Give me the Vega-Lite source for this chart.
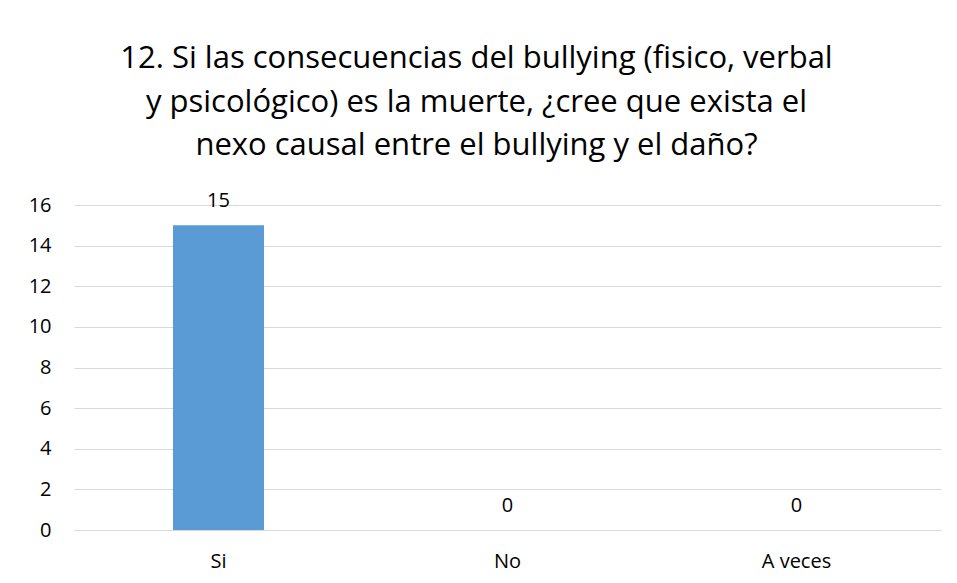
{
  "$schema": "https://vega.github.io/schema/vega-lite/v6.json",
  "width": 867,
  "height": 325,
  "autosize": {"type": "none"},
  "padding": {"left": 74, "top": 205, "right": 16, "bottom": 53},
  "background": "white",
  "config": {"view": {"stroke": null}, "font": "Open Sans"},
  "title": {
    "text": ["12. Si las consecuencias del bullying (fisico, verbal", "y psicológico) es la muerte, ¿cree que exista el", "nexo causal entre el bullying y el daño?"],
    "font": "Open Sans",
    "fontSize": 31,
    "fontWeight": "normal",
    "color": "#000000",
    "anchor": "middle",
    "baseline": "alphabetic",
    "lineHeight": 43.5,
    "offset": 5,
    "dx": -31
  },
  "data": {"values": [
    {"respuesta": "Si", "cantidad": 15},
    {"respuesta": "No", "cantidad": 0},
    {"respuesta": "A veces", "cantidad": 0}
  ]},
  "encoding": {
    "x": {"field": "respuesta", "type": "nominal", "sort": null,
      "scale": {"paddingInner": 0.685, "paddingOuter": 0.3425},
      "axis": {"title": null, "labelAngle": 0, "ticks": false, "domainColor": "#d9d9d9", "domainWidth": 1,
        "labelFont": "Open Sans", "labelFontSize": 20, "labelColor": "#000000", "labelPadding": 21, "labelBaseline": "top"}},
    "y": {"field": "cantidad", "type": "quantitative",
      "scale": {"domain": [0, 16]},
      "axis": {"title": null, "values": [0, 2, 4, 6, 8, 10, 12, 14, 16], "ticks": false, "domain": false,
        "gridColor": "#d9d9d9", "gridWidth": 1, "labelFont": "Open Sans", "labelFontSize": 20, "labelColor": "#000000", "labelPadding": 23}}
  },
  "layer": [
    {"mark": {"type": "bar", "color": "#5b9bd5"}},
    {"mark": {"type": "text", "font": "Open Sans", "fontSize": 20, "color": "#000000", "baseline": "alphabetic", "dy": -18},
      "encoding": {"text": {"field": "cantidad", "type": "quantitative"}}}
  ]
}
